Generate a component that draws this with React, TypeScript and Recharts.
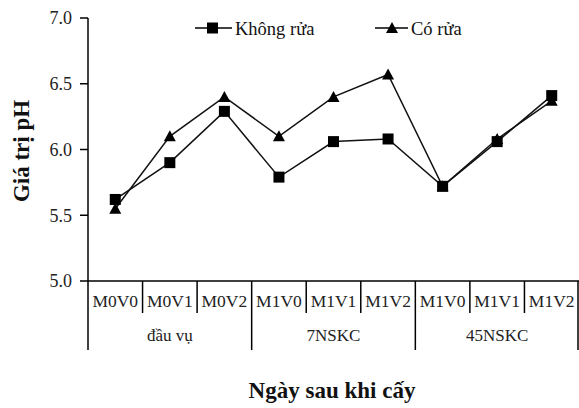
import React from "react";
import { LineChart, Line, XAxis, YAxis } from "recharts";

// nhãn trục x
const categories = ["M0V0", "M0V1", "M0V2", "M1V0", "M1V1", "M1V2", "M1V0", "M1V1", "M1V2"];
const groups = ["đầu vụ", "7NSKC", "45NSKC"];
const khongRua = [5.62, 5.9, 6.29, 5.79, 6.06, 6.08, 5.72, 6.06, 6.41];
const coRua = [5.55, 6.1, 6.4, 6.1, 6.4, 6.57, 5.72, 6.08, 6.37];
const yTicks = [5.0, 5.5, 6.0, 6.5, 7.0];

const data = categories.map((c, i) => ({
  key: `${c}-${i}`,
  cat: c,
  khong: khongRua[i],
  co: coRua[i],
}));

const FONT = "'Liberation Serif', 'Times New Roman', serif";
const W = 579;
const H = 408;
const LEFT = 88;
const TOP = 18;
const BOTTOM = 281;
const BW = (W - LEFT) / categories.length;

const SquareDot = (props: any) => {
  const { cx, cy } = props;
  if (cx == null || cy == null) return null;
  return <rect x={cx - 5.5} y={cy - 5.5} width={11} height={11} fill="#000" />;
};

const TriDot = (props: any) => {
  const { cx, cy } = props;
  if (cx == null || cy == null) return null;
  return <polygon points={`${cx},${cy - 6} ${cx - 6},${cy + 5} ${cx + 6},${cy + 5}`} fill="#000" />;
};

const CatTick = (props: any) => {
  const { x, payload } = props;
  const i = payload.index;
  const left = x - BW / 2;
  const right = x + BW / 2;
  const groupStart = i % 3 === 0;
  return (
    <g>
      <line x1={left} y1={BOTTOM} x2={left} y2={groupStart ? 350 : 313} stroke="#000" strokeWidth={1.5} />
      {i === categories.length - 1 && (
        <line x1={right - 1} y1={BOTTOM} x2={right - 1} y2={350} stroke="#000" strokeWidth={1.5} />
      )}
      <text x={x} y={307} textAnchor="middle" fontFamily={FONT} fontSize={17.5} fill="#222">
        {categories[i]}
      </text>
      {i % 3 === 1 && (
        <text x={x} y={341} textAnchor="middle" fontFamily={FONT} fontSize={17} fill="#222">
          {groups[Math.floor(i / 3)]}
        </text>
      )}
    </g>
  );
};

const LegendBox = () => (
  <svg width={W} height={40} style={{ position: "absolute", left: 0, top: 10 }}>
    <line x1={195} y1={18} x2={232} y2={18} stroke="#000" strokeWidth={1.5} />
    <rect x={207} y={12.5} width={11} height={11} fill="#000" />
    <text x={235} y={25} fontFamily={FONT} fontSize={18.5} fill="#111">Không rửa</text>
    <line x1={375} y1={18} x2={408} y2={18} stroke="#000" strokeWidth={1.5} />
    <polygon points="392,12 386,23 398,23" fill="#000" />
    <text x={411} y={25} fontFamily={FONT} fontSize={18.5} fill="#111">Có rửa</text>
  </svg>
);

export default function App() {
  return (
    <div style={{ position: "absolute", left: 0, top: 0, width: W, height: H, background: "#fff" }}>
      <LineChart width={W} height={H} data={data} margin={{ top: TOP, right: 0, bottom: H - BOTTOM - 60, left: LEFT - 60 }}>
        <XAxis
          dataKey="key"
          height={60}
          padding={{ left: BW / 2, right: BW / 2 }}
          tickLine={false}
          axisLine={{ stroke: "#000", strokeWidth: 1.5 }}
          tick={<CatTick />}
          interval={0}
        />
        <YAxis
          width={60}
          domain={[5, 7]}
          ticks={yTicks}
          tickFormatter={(v: number) => v.toFixed(1)}
          axisLine={{ stroke: "#000", strokeWidth: 1.5 }}
          tickLine={{ stroke: "#000", strokeWidth: 1.5 }}
          tickSize={8}
          tick={{ fontFamily: FONT, fontSize: 18, fill: "#222", dx: -6 }}
        />
        <Line
          dataKey="khong"
          name="Không rửa"
          stroke="#111"
          strokeWidth={1.5}
          dot={<SquareDot />}
          activeDot={false}
          isAnimationActive={false}
        />
        <Line
          dataKey="co"
          name="Có rửa"
          stroke="#111"
          strokeWidth={1.5}
          dot={<TriDot />}
          activeDot={false}
          isAnimationActive={false}
        />
      </LineChart>
      <LegendBox />
      <div
        style={{
          position: "absolute",
          left: 22,
          top: 151,
          transform: "translate(-50%, -50%) rotate(-90deg)",
          whiteSpace: "nowrap",
          fontFamily: FONT,
          fontSize: 23,
          fontWeight: "bold",
          color: "#111",
        }}
      >
        Giá trị pH
      </div>
      <div
        style={{
          position: "absolute",
          left: 332,
          top: 378,
          transform: "translateX(-50%)",
          whiteSpace: "nowrap",
          fontFamily: FONT,
          fontSize: 23,
          fontWeight: "bold",
          color: "#111",
        }}
      >
        Ngày sau khi cấy
      </div>
    </div>
  );
}
